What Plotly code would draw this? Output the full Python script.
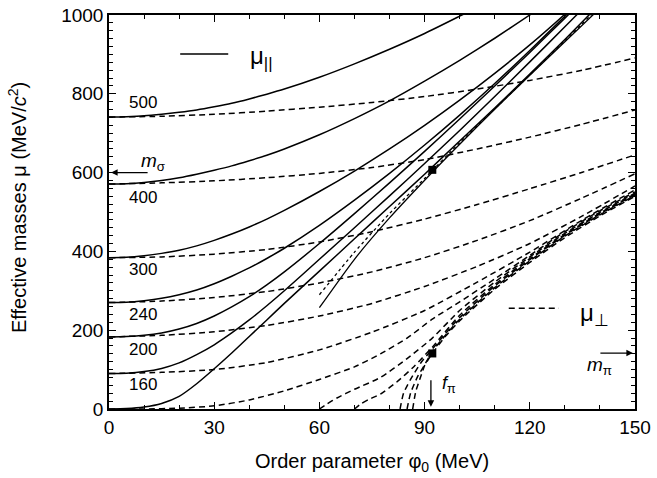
import plotly.graph_objects as go

# ---------------- data ----------------
PHI_S = [0, 5, 10, 15, 20, 25, 30, 35, 40, 45, 50, 60, 70, 80, 90, 100, 110, 120, 130, 140]
S500 = [741, 742, 744, 748, 753, 759, 767, 776, 787, 799, 812, 842, 876, 913, 953, 997, 1042]
S400 = [571, 572, 575, 580, 587, 596, 606, 617, 630, 644, 660, 696, 737, 782, 832, 885, 941, 1000, 1060]
S300 = [384, 385, 389, 395, 403, 414, 428, 444, 462, 482, 504, 552, 604, 660, 720, 784, 852, 924, 1002, 1085]
S240 = [270, 271, 275, 281, 290, 302, 318, 337, 358, 382, 408, 466, 530, 598, 670, 746, 826, 910, 997, 1086]
S200 = [183, 184, 187, 193, 203, 217, 236, 259, 285, 315, 348, 420, 496, 574, 654, 736, 820, 905, 992, 1080]
S160 = [90, 91, 95, 103, 117, 138, 163, 193, 226, 262, 300, 380, 460, 541, 623, 707, 793, 881, 970, 1060]
S0 = [0, 1, 5, 14, 32, 64, 102, 142, 184, 226, 268, 350, 432, 514, 596, 680, 764, 850, 938, 1028]

T0_PHI = [60, 70, 80, 92.2, 100, 110, 120, 130, 140]
T0 = [257, 380, 485, 601, 672, 761, 847, 932, 1017]
I1_PHI = [60, 70, 80, 90, 100, 110, 120, 130, 140]
I1 = [290, 398, 496, 585, 676, 762, 848, 935, 1022]

PHI_D = [0, 15, 30, 45, 60, 75, 90, 105, 120, 135, 150]
D500 = [741, 743, 748, 756, 766, 778, 793, 812, 834, 860, 891]
D400 = [571, 574, 579, 587, 598, 613, 633, 660, 690, 723, 759]
D300 = [384, 386, 393, 405, 424, 450, 482, 519, 559, 601, 645]
D240 = [270, 274, 283, 298, 320, 348, 384, 428, 478, 536, 597]
D200 = [183, 187, 196, 212, 236, 268, 311, 362, 420, 490, 566]
D160 = [90, 93, 100, 118, 150, 195, 250, 322, 398, 480, 556]

L1_PHI = [0, 10, 20, 30, 40, 50, 60, 70, 77.4, 85, 92.2, 100, 110, 120, 130, 140, 150]
L1 = [0, 0, 2, 8, 23, 46, 75, 107, 140, 180, 228, 272, 330, 390, 450, 503, 551]
L2_PHI = [60, 62, 65, 70, 77.4, 85, 92.2, 100, 110, 120, 130, 140, 150]
L2 = [0, 12, 28, 50, 80, 128, 180, 250, 322, 386, 446, 499, 548]
L3_PHI = [70, 72, 74, 77.4, 82, 87, 92.2, 100, 110, 120, 130, 140, 150]
L3 = [0, 14, 24, 38, 68, 108, 157, 238, 316, 382, 443, 497, 546]
L4_PHI = [83, 84, 86, 89, 92.2, 96, 100, 110, 120, 130, 140, 150]
L4 = [0, 40, 75, 118, 152, 192, 232, 312, 379, 441, 495, 544]
L5_PHI = [85, 86, 88, 90, 92.2, 96, 100, 110, 120, 130, 140, 150]
L5 = [0, 40, 82, 112, 146, 188, 228, 308, 376, 439, 493, 542]
L6_PHI = [86.6, 87.5, 89, 90, 92.2, 96, 100, 110, 120, 130, 140, 150]
L6 = [0, 45, 85, 110, 141, 185, 224, 304, 372, 435, 490, 540]

SQ_PHI = [92.2, 92.2]
SQ_MU = [607, 141]

T_LABELS = ["500", "400", "300", "240", "200", "160"]
X_TICKS = [0, 30, 60, 90, 120, 150]
Y_TICKS = [0, 200, 400, 600, 800, 1000]

# ---------------- figure ----------------
FONT = "Liberation Sans, Arial, Helvetica, sans-serif"
fig = go.Figure()

def add(x, y, dash="solid", width=1.5):
    fig.add_trace(go.Scatter(x=x, y=y, mode="lines",
                             line=dict(color="black", width=width, dash=dash,
                                       shape="spline", smoothing=0.6),
                             hoverinfo="skip", showlegend=False))

DASH = "6px,4px"
for d in [D500, D400, D300, D240, D200, D160]:
    add(PHI_D, d, DASH)
for px_, d in [(L1_PHI, L1), (L2_PHI, L2), (L3_PHI, L3), (L4_PHI, L4), (L5_PHI, L5), (L6_PHI, L6)]:
    add(px_, d, DASH)

for s in [S500, S400, S300, S240, S200, S160, S0]:
    add(PHI_S[:len(s)], s)
add(T0_PHI, T0, "solid", 1.3)
add(I1_PHI, I1, "dot", 1.3)

fig.add_trace(go.Scatter(x=SQ_PHI, y=SQ_MU, mode="markers",
                         marker=dict(symbol="square", size=8, color="black"),
                         hoverinfo="skip", showlegend=False))

# invisible trace to carry the mirrored top/right axes
fig.add_trace(go.Scatter(x=[None], y=[None], xaxis="x2", yaxis="y2",
                         mode="markers", hoverinfo="skip", showlegend=False))

# legend-like keys
fig.add_shape(type="line", x0=20.3, x1=34, y0=901, y1=901,
              line=dict(color="black", width=1.5))
fig.add_shape(type="line", x0=114, x1=128.3, y0=256, y1=256,
              line=dict(color="black", width=1.5, dash=DASH))

ann = []
ann.append(dict(x=43.5, y=893, text="μ<sub>||</sub>", showarrow=False,
                xanchor="center", yanchor="middle", font=dict(size=24)))
ann.append(dict(x=138.5, y=239, text="μ<sub>⊥</sub>", showarrow=False,
                xanchor="center", yanchor="middle", font=dict(size=24)))

label_pos = [(9.8, 777), (9.8, 538), (9.8, 353), (9.8, 239), (9.8, 150), (9.8, 61)]
for t, (x, y) in zip(T_LABELS, label_pos):
    ann.append(dict(x=x, y=y, text=t, showarrow=False, xanchor="center",
                    yanchor="middle", font=dict(size=17)))

# arrows
ann.append(dict(x=0.6, y=600, ax=38, ay=0, text="", showarrow=True,
                arrowhead=2, arrowsize=1, arrowwidth=1.3, arrowcolor="black"))
ann.append(dict(x=12.5, y=626, text="<i>m</i><sub>σ</sub>", showarrow=False,
                xanchor="center", yanchor="middle", font=dict(size=19)))
ann.append(dict(x=149.4, y=142, ax=-34, ay=0, text="", showarrow=True,
                arrowhead=2, arrowsize=1, arrowwidth=1.3, arrowcolor="black"))
ann.append(dict(x=140, y=110, text="<i>m</i><sub>π</sub>", showarrow=False,
                xanchor="center", yanchor="middle", font=dict(size=19)))
ann.append(dict(x=91.8, y=6, ax=0, ay=-28, text="", showarrow=True,
                arrowhead=2, arrowsize=1, arrowwidth=1.3, arrowcolor="black"))
ann.append(dict(x=97, y=63, text="<i>f</i><sub>π</sub>", showarrow=False,
                xanchor="center", yanchor="middle", font=dict(size=18)))

# axis titles as annotations (precise placement)
ann.append(dict(xref="paper", yref="paper", x=0.5, y=0, yshift=-53,
                text="Order parameter φ<sub>0</sub> (MeV)", showarrow=False,
                xanchor="center", yanchor="middle", font=dict(size=20)))
ann.append(dict(xref="paper", yref="paper", x=0, y=0.51, xshift=-92,
                text="Effective masses μ (MeV/<i>c</i><sup>2</sup>)", showarrow=False,
                textangle=-90, xanchor="center", yanchor="middle", font=dict(size=20)))

axis_common = dict(ticks="inside", ticklen=7, tickwidth=1.2, tickcolor="black",
                   showline=True, linecolor="black", linewidth=1.5,
                   showgrid=False, zeroline=False, automargin=False)

fig.update_layout(
    width=657, height=478, autosize=False,
    margin=dict(l=109, r=22, t=15, b=69),
    paper_bgcolor="white", plot_bgcolor="white",
    font=dict(family=FONT, size=19, color="black"),
    annotations=ann,
    xaxis=dict(range=[0, 150], tickvals=X_TICKS,
               minor=dict(dtick=10, ticks="inside", ticklen=4, tickcolor="black"),
               **axis_common),
    yaxis=dict(range=[0, 1000], tickvals=Y_TICKS,
               minor=dict(dtick=20, ticks="inside", ticklen=4, tickcolor="black"),
               **axis_common),
    xaxis2=dict(range=[0, 150], tickvals=X_TICKS, overlaying="x", side="top",
                anchor="y", showticklabels=False,
                minor=dict(dtick=10, ticks="inside", ticklen=4, tickcolor="black"),
                **axis_common),
    yaxis2=dict(range=[0, 1000], tickvals=Y_TICKS, overlaying="y", side="right",
                anchor="x", showticklabels=False,
                minor=dict(dtick=20, ticks="inside", ticklen=4, tickcolor="black"),
                **axis_common),
)

POST = ("document.body.style.margin='0';document.body.style.padding='0';"
        "document.body.style.overflow='hidden';"
        "document.documentElement.style.overflow='hidden';")
fig.write_html("out.html", config={"responsive": False, "displayModeBar": False},
               post_script=POST)
